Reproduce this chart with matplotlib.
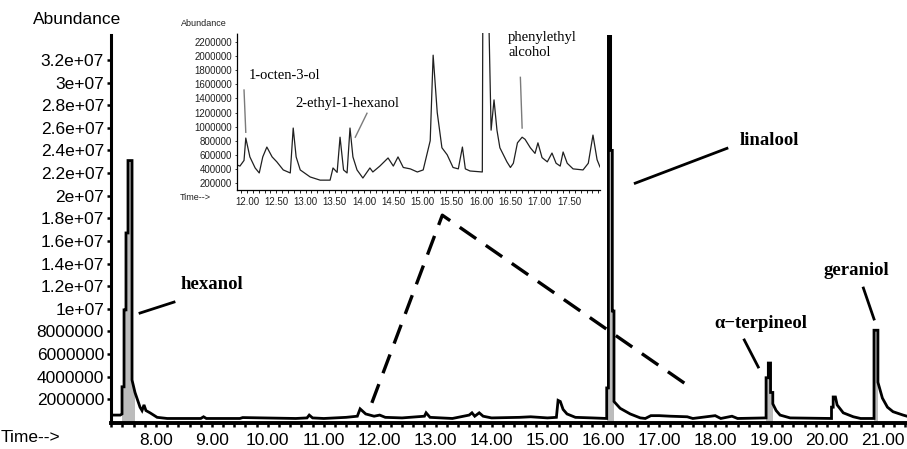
import matplotlib
matplotlib.use("Agg")
import matplotlib.pyplot as plt
from matplotlib.ticker import FixedLocator, MultipleLocator

# --- chromatogram (full run), time in min, abundance in counts ---
main_time = [
    7.195, 7.36, 7.392, 7.392, 7.428, 7.428, 7.463, 7.463, 7.499, 7.499,
    7.571, 7.571, 7.624, 7.714, 7.75, 7.785, 7.82, 7.893, 8.02, 8.2,
    8.8, 8.85, 8.9, 9.5, 9.55, 10.5, 10.7, 10.74, 10.8, 11.0, 11.4, 11.6,
    11.65, 11.75, 11.9, 12.0, 12.1, 12.4, 12.8, 12.83, 12.9, 13.3, 13.6,
    13.65, 13.7, 13.78, 13.85, 14.0, 14.5, 14.7, 15.0, 15.16, 15.19,
    15.23, 15.28, 15.35, 15.5, 15.8, 16.06, 16.06, 16.09, 16.09, 16.13,
    16.13, 16.16, 16.16, 16.19, 16.19, 16.30, 16.48, 16.66, 16.75, 16.85,
    17.0, 17.2, 17.5, 17.6, 18.0, 18.1, 18.3, 18.4, 18.91, 18.91, 18.95,
    18.95, 18.99, 18.99, 19.03, 19.03, 19.09, 19.16, 19.34, 20.08, 20.08,
    20.11, 20.11, 20.15, 20.18, 20.29, 20.47, 20.6, 20.84, 20.84, 20.91,
    20.91, 20.99, 21.08, 21.18, 21.36, 21.43,
]
main_abund = [
    0.6e6, 0.6e6, 0.7e6, 3.1e6, 3.1e6, 9.9e6, 9.9e6, 16.7e6, 16.7e6, 23.1e6,
    23.1e6, 3.7e6, 2.6e6, 1.3e6, 1.0e6, 1.5e6, 1.0e6, 0.8e6, 0.4e6, 0.3e6,
    0.3e6, 0.45e6, 0.3e6, 0.3e6, 0.38e6, 0.3e6, 0.35e6, 0.6e6, 0.35e6, 0.3e6, 0.4e6, 0.5e6,
    1.15e6, 0.7e6, 0.5e6, 0.6e6, 0.4e6, 0.35e6, 0.5e6, 0.8e6, 0.4e6, 0.3e6, 0.6e6,
    0.8e6, 0.5e6, 0.8e6, 0.5e6, 0.35e6, 0.4e6, 0.45e6, 0.35e6, 0.4e6, 1.9e6,
    1.8e6, 1.1e6, 0.7e6, 0.4e6, 0.35e6, 0.3e6, 3.0e6, 3.0e6, 36e6, 36e6,
    24e6, 24e6, 9.8e6, 9.8e6, 1.8e6, 1.2e6, 0.7e6, 0.35e6, 0.3e6, 0.55e6,
    0.55e6, 0.5e6, 0.45e6, 0.3e6, 0.55e6, 0.3e6, 0.5e6, 0.3e6, 0.35e6, 3.9e6, 3.9e6,
    5.2e6, 5.2e6, 2.6e6, 2.6e6, 1.6e6, 1.0e6, 0.6e6, 0.35e6, 0.3e6, 1.3e6,
    1.3e6, 2.2e6, 2.2e6, 1.5e6, 0.8e6, 0.45e6, 0.3e6, 0.3e6, 8.1e6, 8.1e6,
    3.5e6, 2.1e6, 1.3e6, 0.9e6, 0.6e6, 0.5e6,
]

# --- enlarged section 11.8-18 min ---
zoom_time = [
    11.83, 11.88, 11.95, 11.98, 12.05, 12.14, 12.21, 12.27, 12.34, 12.43,
    12.51, 12.62, 12.74, 12.79, 12.84, 12.91, 13.08, 13.25, 13.42, 13.47,
    13.54, 13.59, 13.65, 13.71, 13.76, 13.81, 13.88, 13.98, 14.10, 14.15,
    14.27, 14.41, 14.50, 14.58, 14.67, 14.79, 14.91, 15.01, 15.13, 15.18,
    15.25, 15.33, 15.42, 15.52, 15.61, 15.68, 15.73, 15.81, 16.02, 16.03,
    16.12, 16.17, 16.22, 16.27, 16.32, 16.38, 16.44, 16.50, 16.55, 16.62,
    16.70, 16.75, 16.84, 16.92, 16.97, 17.04, 17.13, 17.21, 17.28, 17.35,
    17.40, 17.47, 17.57, 17.74, 17.83, 17.91, 17.98, 18.03,
]
zoom_abund = [
    455e3, 440e3, 520e3, 838e3, 570e3, 413e3, 342e3, 570e3, 710e3, 570e3,
    500e3, 385e3, 342e3, 980e3, 570e3, 385e3, 285e3, 240e3, 240e3, 413e3,
    350e3, 850e3, 385e3, 342e3, 980e3, 570e3, 385e3, 270e3, 413e3, 356e3,
    440e3, 555e3, 440e3, 570e3, 420e3, 400e3, 356e3, 385e3, 800e3, 2015e3,
    1200e3, 700e3, 600e3, 420e3, 400e3, 710e3, 400e3, 370e3, 356e3, 3000e3,
    3000e3, 950e3, 1380e3, 950e3, 700e3, 600e3, 500e3, 420e3, 480e3, 770e3,
    850e3, 820e3, 700e3, 620e3, 770e3, 560e3, 500e3, 625e3, 480e3, 440e3,
    640e3, 480e3, 400e3, 385e3, 480e3, 880e3, 530e3, 427e3,
]

main_yticks = [2e6 * i for i in range(1, 17)]
main_ylabels = ["2000000", "4000000", "6000000", "8000000", "1e+07", "1.2e+07",
                "1.4e+07", "1.6e+07", "1.8e+07", "2e+07", "2.2e+07", "2.4e+07",
                "2.6e+07", "2.8e+07", "3e+07", "3.2e+07"]
main_xticks = list(range(8, 22))

zoom_yticks = [2e5 * i for i in range(1, 12)]
zoom_xticks = [12 + 0.5 * i for i in range(13)]

# compound labels: (text, label x, label y, leader start, leader end)
main_names = [
    ("hexanol", 9.0, 12.1e6, (7.714, 9.62e6), (8.322, 10.59e6)),
    ("linalool", 18.97, 24.9e6, (16.57, 21.1e6), (18.21, 24.18e6)),
    ("\u03b1\u2212terpineol", 18.82, 8.74e6, (18.52, 7.24e6), (18.77, 4.85e6)),
    ("geraniol", 20.52, 13.4e6, (20.65, 11.83e6), (20.84, 9.09e6)),
]
zoom_names = [
    ("1-octen-3-ol", 12.65, 1.72e6, (11.95, 1.52e6), (11.98, 0.92e6)),
    ("2-ethyl-1-hexanol", 13.71, 1.335e6, (14.05, 1.19e6), (13.85, 0.85e6)),
]

# dashed wedge pointing from the main trace to the enlarged section
wedge_time = [11.86, 13.12, 17.52]
wedge_abund = [1.68e6, 18.27e6, 3.18e6]

sans = "Liberation Sans"
serif = "Liberation Serif"

fig = plt.figure(figsize=(9.07, 4.49), dpi=100)
ax = fig.add_axes([111 / 907, 26 / 449, 796 / 907, 388 / 449])

# grey core only inside the tall narrow peaks
tall = [a > 2.5e6 for a in main_abund]
ax.fill_between(main_time, 0, main_abund, where=tall, color="#bcbcbc", lw=0)
ax.plot(main_time, main_abund, color="black", lw=2.0, solid_joinstyle="miter")
ax.plot(wedge_time, wedge_abund, color="black", lw=2.4, dashes=(6, 3.5))

for name, tx, ty, p0, p1 in main_names:
    ax.text(tx, ty, name, family=serif, fontweight="bold", fontsize=13.5,
            ha="center", va="center")
    ax.plot([p0[0], p1[0]], [p0[1], p1[1]], color="black", lw=2.0)

ax.set_xlim(7.195, 21.43)
ax.set_ylim(-0.1e6, 34.2e6)
for side in ("top", "right"):
    ax.spines[side].set_visible(False)
ax.spines["left"].set_linewidth(2.2)
ax.spines["bottom"].set_linewidth(2.8)
ax.yaxis.set_major_locator(FixedLocator(main_yticks))
ax.set_yticklabels(main_ylabels)
ax.xaxis.set_major_locator(FixedLocator(main_xticks))
ax.set_xticklabels([f"{t:.2f}" for t in main_xticks])
ax.xaxis.set_minor_locator(MultipleLocator(0.2))
ax.tick_params(axis="y", length=3, width=1.8, pad=2, labelsize=12.5)
ax.tick_params(axis="x", which="both", length=3, width=1.8, pad=4, labelsize=12.5)
for lab in ax.get_xticklabels() + ax.get_yticklabels():
    lab.set_family(sans)

fig.text(33 / 907, 1 - 19 / 449, "Abundance", family=sans, fontsize=12.5,
         ha="left", va="center")
fig.text(1 / 907, 1 - 438 / 449, "Time-->", family=sans, fontsize=12.5,
         ha="left", va="center")

# --- inset ---
ins = fig.add_axes([237 / 907, 259 / 449, 363 / 907, 157 / 449])
ins.patch.set_alpha(0)
ins.plot(zoom_time, zoom_abund, color="#202020", lw=0.9)
for name, tx, ty, p0, p1 in zoom_names:
    ins.text(tx, ty, name, family=serif, fontsize=10.5, ha="center", va="center")
    ins.plot([p0[0], p1[0]], [p0[1], p1[1]], color="#7a7a7a", lw=1.0, clip_on=False)
ins.text(16.46, 2.16e6, "phenylethyl\nalcohol", family=serif, fontsize=10.5,
         ha="left", va="center", linespacing=1.15, clip_on=False)
ins.plot([16.67, 16.70], [1.70e6, 0.98e6], color="#7a7a7a", lw=1.0)

ins.set_xlim(11.83, 18.03)
ins.set_ylim(1.0e5, 2.33e6)
for side in ("top", "right"):
    ins.spines[side].set_visible(False)
ins.spines["left"].set_linewidth(0.9)
ins.spines["left"].set_linestyle((0, (1, 1)))
ins.spines["bottom"].set_linewidth(0.9)
ins.yaxis.set_major_locator(FixedLocator(zoom_yticks))
ins.set_yticklabels([f"{int(v)}" for v in zoom_yticks])
ins.xaxis.set_major_locator(FixedLocator(zoom_xticks))
ins.set_xticklabels([f"{t:.2f}" if t < 17.9 else "" for t in zoom_xticks])
ins.xaxis.set_minor_locator(MultipleLocator(0.1))
ins.tick_params(axis="y", length=1.5, width=0.6, pad=2, labelsize=7,
                colors="#202020")
ins.tick_params(axis="x", which="both", length=2, width=0.7, pad=3,
                labelsize=7, colors="#202020")
for lab in ins.get_xticklabels() + ins.get_yticklabels():
    lab.set_family(sans)

fig.text(181 / 907, 1 - 23 / 449, "Abundance", family=sans, fontsize=6.5,
         ha="left", va="center", color="#202020")
fig.text(180 / 907, 1 - 198 / 449, "Time-->", family=sans, fontsize=6.5,
         ha="left", va="center", color="#202020")

fig.savefig("out.png", dpi=100)
